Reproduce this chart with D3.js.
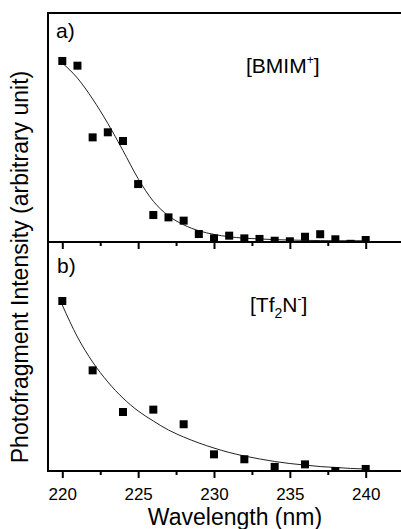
<!doctype html>
<html>
  <head>
    <meta charset="utf-8"/>
    <title>Photofragment Intensity</title>
    <style>
      body, html {
        margin: 0;
        padding: 0;
        background: #fff;
      }
      svg text {
        font-family: "Liberation Sans", Arial, sans-serif;
        fill: #000;
      }
    </style>
    <script src="https://d3js.org/d3.v7.min.js"></script>
  </head>
  <body>
    <svg id="chart" width="401" height="529"></svg>

    <script>
      // panel a) [BMIM+] measured points
      var bmimWl = [220, 221, 222, 223, 224, 225, 226, 227, 228, 229, 230,
                    231, 232, 233, 234, 235, 236, 237, 238, 239, 240];
      var bmimVal = [1.00, 0.974, 0.578, 0.606, 0.558, 0.320, 0.149, 0.136, 0.118, 0.044, 0.020,
                     0.035, 0.020, 0.017, 0.007, 0.004, 0.029, 0.043, 0.015, -0.01, 0.011];
      // fitted curve
      var bmimFitWl = [220, 221, 222, 223, 224, 225, 226, 227, 228, 229, 230,
                       231, 232, 233, 234, 235, 236, 237, 238, 239, 240];
      var bmimFit = [0.989, 0.905, 0.790, 0.655, 0.505, 0.350, 0.225, 0.145, 0.095, 0.062, 0.042,
                     0.029, 0.021, 0.017, 0.013, 0.011, 0.009, 0.008, 0.007, 0.007, 0.007];

      // panel b) [Tf2N-]
      var tf2nWl = [220, 222, 224, 226, 228, 230, 232, 234, 236, 238, 240];
      var tf2nVal = [1.00, 0.592, 0.347, 0.361, 0.275, 0.098, 0.069, 0.024, 0.039, 0.0, 0.012];
      var tf2nFitWl = [220, 221, 222, 223, 224, 225, 226, 227, 228, 229, 230,
                       231, 232, 233, 234, 235, 236, 237, 238, 239, 240];
      var tf2nFit = [0.976, 0.788, 0.641, 0.524, 0.429, 0.353, 0.294, 0.241, 0.200, 0.165, 0.135,
                     0.109, 0.088, 0.071, 0.056, 0.044, 0.035, 0.026, 0.021, 0.015, 0.012];

      var majorTicks = [220, 225, 230, 235, 240];
      var minorTicks = [222.5, 227.5, 232.5, 237.5];

      var plotLeft = 48, plotRight = 401, plotTop = 13, plotMid = 242, plotBottom = 471;

      var svg = d3.select("#chart");

      var x = d3.scaleLinear().domain([220, 240]).range([62.3, 365.7]);

      var panels = [
        { id: "a", wl: bmimWl, val: bmimVal, fitWl: bmimFitWl, fit: bmimFit,
          y: d3.scaleLinear().domain([0, 1.265]).range([plotMid, plotTop]), y0: plotTop, y1: plotMid },
        { id: "b", wl: tf2nWl, val: tf2nVal, fitWl: tf2nFitWl, fit: tf2nFit,
          y: d3.scaleLinear().domain([0, 1.347]).range([plotBottom, plotMid]), y0: plotMid, y1: plotBottom }
      ];

      panels.forEach(function(p) {
        svg.append("clipPath").attr("id", "clip-" + p.id)
          .append("rect")
            .attr("x", plotLeft).attr("y", p.y0)
            .attr("width", plotRight - plotLeft).attr("height", p.y1 - p.y0);

        var g = svg.append("g").attr("clip-path", "url(#clip-" + p.id + ")");

        var line = d3.line()
          .x(function(d, i) { return x(p.fitWl[i]); })
          .y(function(d) { return p.y(d); })
          .curve(d3.curveMonotoneX);

        g.append("path")
          .datum(p.fit)
          .attr("d", line)
          .attr("fill", "none")
          .attr("stroke", "#222")
          .attr("stroke-width", 1);

        g.selectAll("rect.pt")
          .data(p.val)
          .enter().append("rect")
            .attr("class", "pt")
            .attr("x", function(d, i) { return x(p.wl[i]) - 4; })
            .attr("y", function(d) { return p.y(d) - 4; })
            .attr("width", 8)
            .attr("height", 8)
            .attr("fill", "#000");

        // ticks below each panel's bottom axis
        var major = d3.axisBottom(x).tickValues(majorTicks).tickSize(7)
          .tickFormat(p.id === "b" ? d3.format("d") : "");
        var minor = d3.axisBottom(x).tickValues(minorTicks).tickSize(4).tickFormat("");

        svg.append("g").attr("transform", "translate(0," + p.y1 + ")").call(major);
        svg.append("g").attr("transform", "translate(0," + p.y1 + ")").call(minor);
      });

      svg.selectAll(".domain").remove();
      svg.selectAll(".tick line").attr("stroke", "#000").attr("stroke-width", 2);
      svg.selectAll(".tick text")
        .attr("y", 17)
        .style("font-family", "'Liberation Sans', Arial, sans-serif")
        .style("font-size", "17px");

      // frame lines
      var frame = svg.append("g").attr("stroke", "#000").attr("stroke-width", 2);
      frame.append("line").attr("x1", plotLeft).attr("x2", plotRight).attr("y1", plotTop).attr("y2", plotTop);
      frame.append("line").attr("x1", plotLeft).attr("x2", plotLeft).attr("y1", plotTop - 1).attr("y2", plotBottom + 1);
      frame.append("line").attr("x1", plotLeft).attr("x2", plotRight).attr("y1", plotMid).attr("y2", plotMid);
      frame.append("line").attr("x1", plotLeft).attr("x2", plotRight).attr("y1", plotBottom).attr("y2", plotBottom);

      // panel labels
      svg.append("text").attr("x", 56).attr("y", 38).style("font-size", "21px").text("a)");
      svg.append("text").attr("x", 57).attr("y", 273).style("font-size", "21px").text("b)");

      var t1 = svg.append("text").attr("x", 246).attr("y", 73).style("font-size", "21px");
      t1.append("tspan").text("[BMIM");
      t1.append("tspan").attr("dy", -9).style("font-size", "12px").text("+");
      t1.append("tspan").attr("dy", 9).text("]");

      var t2 = svg.append("text").attr("x", 250).attr("y", 312).style("font-size", "21px");
      t2.append("tspan").text("[Tf");
      t2.append("tspan").attr("dy", 6).style("font-size", "14px").text("2");
      t2.append("tspan").attr("dy", -6).text("N");
      t2.append("tspan").attr("dy", -9).style("font-size", "12px").text("-");
      t2.append("tspan").attr("dy", 9).text("]");

      // axis titles
      svg.append("text")
        .attr("x", 235).attr("y", 525)
        .attr("text-anchor", "middle")
        .style("font-size", "23px")
        .text("Wavelength (nm)");

      svg.append("text")
        .attr("transform", "translate(28,267) rotate(-90)")
        .attr("text-anchor", "middle")
        .style("font-size", "23px")
        .text("Photofragment Intensity (arbitrary unit)");
    </script>
  </body>
</html>
